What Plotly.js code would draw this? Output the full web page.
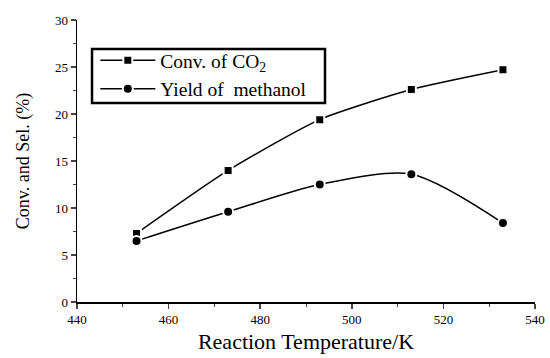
<!DOCTYPE html>
<html><head><meta charset="utf-8">
<script src="https://cdn.plot.ly/plotly-3.0.1.min.js"></script>
<style>body{margin:0;background:#fff}#c{width:550px;height:358px}</style>
</head><body><div id="c"></div>
<script>
var temps = [453, 473, 493, 513, 533];
var convCO2 = [7.3, 14.0, 19.4, 22.6, 24.7];
var yieldMeOH = [6.5, 9.6, 12.5, 13.6, 8.4];
var seriesNames = ['Conv. of CO<sub>2</sub>', 'Yield of  methanol'];

var traces = [
  {x: temps, y: convCO2, name: seriesNames[0], mode: 'lines+markers', type: 'scatter',
   line: {color: '#000', width: 1.5, shape: 'spline', smoothing: 0.6},
   marker: {symbol: 'square', size: 9, color: '#000', line: {color: '#fff', width: 2}}},
  {x: temps, y: yieldMeOH, name: seriesNames[1], mode: 'lines+markers', type: 'scatter',
   line: {color: '#000', width: 1.5, shape: 'spline', smoothing: 0.8},
   marker: {symbol: 'circle', size: 10, color: '#000', line: {color: '#fff', width: 2}}}
];
var font = 'Liberation Serif, Times New Roman, serif';
var layout = {
  width: 550, height: 358,
  margin: {l: 77, r: 15, t: 20, b: 56},
  paper_bgcolor: '#fff', plot_bgcolor: '#fff',
  font: {family: font, color: '#000', size: 13},
  showlegend: true,
  legend: {x: 0.04, y: 0.925, xanchor: 'left', yanchor: 'top', bgcolor: 'rgba(0,0,0,0)',
           borderwidth: 0, font: {size: 19.5, family: font, color: '#000'},
           itemwidth: 55, tracegroupgap: 0},
  shapes: [{type: 'rect', xref: 'paper', yref: 'paper', x0: 0.0328, x1: 0.5415, y0: 0.7057, y1: 0.8972,
            line: {color: '#000', width: 2.5}, fillcolor: '#fff', layer: 'above'}],
  xaxis: {range: [440, 540], dtick: 20, tick0: 440, ticks: 'outside', ticklen: 5, tickwidth: 1.5,
          showgrid: false, zeroline: false, showline: true, linewidth: 1.5, linecolor: '#000',
          tickfont: {size: 13, color: '#000'}, minor: {dtick: 10, ticks: 'outside', ticklen: 3, tickwidth: 1},
          title: {text: 'Reaction Temperature/K', font: {size: 22, color: '#000'}, standoff: 7}},
  yaxis: {range: [0, 30], dtick: 5, ticks: 'outside', ticklen: 5, tickwidth: 1.5,
          showgrid: false, zeroline: false, showline: true, linewidth: 1.5, linecolor: '#000',
          tickfont: {size: 13, color: '#000'}, minor: {dtick: 2.5, ticks: 'outside', ticklen: 3, tickwidth: 1},
          title: {text: 'Conv. and Sel. (%)', font: {size: 18, color: '#000'}, standoff: 20}}
};
Plotly.newPlot('c', traces, layout, {staticPlot: true});
</script></body></html>
